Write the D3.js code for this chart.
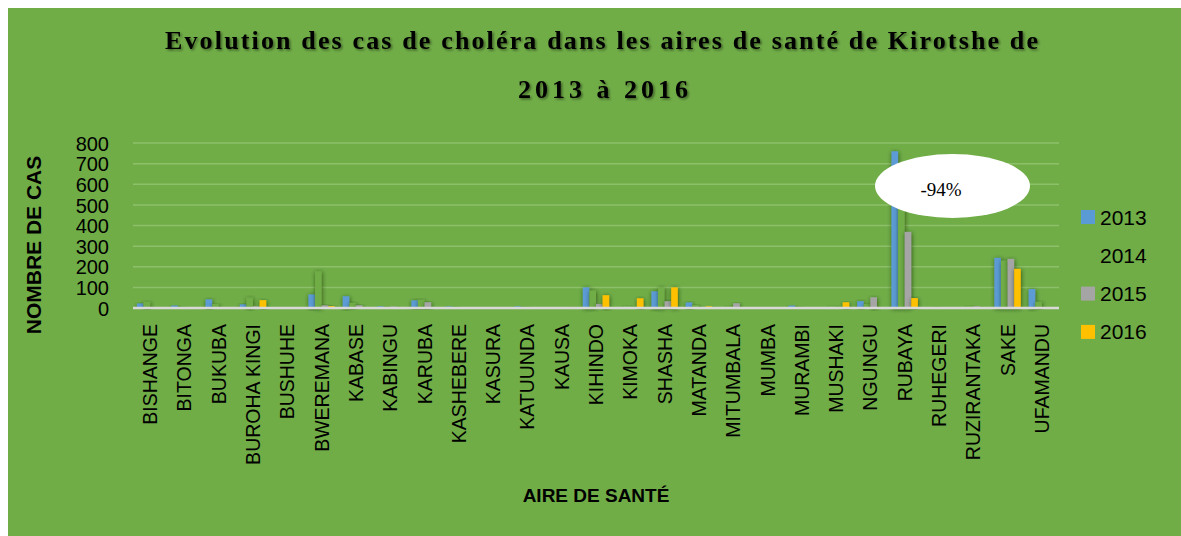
<!DOCTYPE html>
<html>
<head>
<meta charset="utf-8">
<script src="https://cdn.jsdelivr.net/npm/d3@7"></script>
<style>
  body { margin: 0; background: #ffffff; }
  svg { display: block; }
</style>
</head>
<body>
<svg id="chart" width="1181" height="536"></svg>
<script>
// aires de santé (x categories)
let aires = ["BISHANGE", "BITONGA", "BUKUBA", "BUROHA KINGI", "BUSHUHE", "BWEREMANA", "KABASE",
  "KABINGU", "KARUBA", "KASHEBERE", "KASURA", "KATUUNDA", "KAUSA", "KIHINDO", "KIMOKA", "SHASHA",
  "MATANDA", "MITUMBALA", "MUMBA", "MURAMBI", "MUSHAKI", "NGUNGU", "RUBAYA", "RUHEGERI",
  "RUZIRANTAKA", "SAKE", "UFAMANDU"];
let years = ["2013", "2014", "2015", "2016"];

// cases per year
let cas2013 = [22, 12, 42, 18, 3, 66, 57, 8, 37, 7, 0, 8, 3, 100, 0, 81, 27, 0, 0, 12, 0, 33, 760, 2, 0, 243, 92];
let cas2014 = [30, 5, 20, 50, 0, 178, 25, 5, 40, 5, 0, 5, 0, 85, 10, 100, 15, 10, 0, 5, 10, 20, 520, 5, 10, 230, 30];
let cas2015 = [4, 0, 3, 8, 0, 13, 13, 7, 28, 3, 0, 0, 2, 20, 2, 33, 3, 23, 3, 3, 0, 52, 369, 2, 8, 238, 2];
let cas2016 = [0, 3, 0, 38, 0, 9, 3, 3, 3, 0, 0, 0, 5, 62, 47, 100, 8, 2, 3, 0, 28, 3, 48, 2, 0, 190, 0];
let yTicks = [0, 100, 200, 300, 400, 500, 600, 700, 800];

let series = {"2013": cas2013, "2014": cas2014, "2015": cas2015, "2016": cas2016};
let colorYears = {
  "2013": "#5B9BD5",
  "2014": "#70AD47",
  "2015": "#A5A5A5",
  "2016": "#FFC000"
};
let bg = "#70AD47";

let svg = d3.select("#chart");

// white strip on the left and top, green chart area
svg.append("rect")
  .attr("x", 8).attr("y", 8)
  .attr("width", 1181 - 8).attr("height", 536 - 8)
  .attr("fill", bg);

let defs = svg.append("defs");
let shadow = defs.append("filter").attr("id", "barShadow")
  .attr("x", "-100%").attr("y", "-20%").attr("width", "300%").attr("height", "140%");
shadow.append("feDropShadow")
  .attr("dx", 0.5).attr("dy", 1)
  .attr("stdDeviation", 2)
  .attr("flood-color", "#1a3309")
  .attr("flood-opacity", 0.75);
let tshadow = defs.append("filter").attr("id", "titleShadow");
tshadow.append("feDropShadow")
  .attr("dx", 1.5).attr("dy", 1.5)
  .attr("stdDeviation", 1)
  .attr("flood-color", "#000")
  .attr("flood-opacity", 0.45);

let plotLeft = 133, plotRight = 1059, plotTop = 143, plotBottom = 308;

let x = d3.scaleBand()
  .domain(aires)
  .range([plotLeft, plotRight]);
let xYear = d3.scaleBand()
  .domain(years)
  .range([0, x.bandwidth()])
  .paddingOuter(0.6);
let y = d3.scaleLinear()
  .domain([0, 800])
  .range([plotBottom, plotTop]);

// gridlines
svg.append("g")
  .attr("class", "gridlines")
  .selectAll("line")
  .data(yTicks.slice(1))
  .enter().append("line")
  .attr("x1", plotLeft).attr("x2", plotRight)
  .attr("y1", d => y(d)).attr("y2", d => y(d))
  .attr("stroke", "#8DC06A")
  .attr("stroke-width", 1.5);

// y-axis labels
let yAxis = d3.axisLeft(y)
  .tickValues(yTicks)
  .tickSize(0)
  .tickPadding(0);
let yg = svg.append("g")
  .attr("class", "y-axis")
  .attr("transform", "translate(109,0)")
  .call(yAxis);
yg.select(".domain").remove();
yg.selectAll("text")
  .attr("fill", "#000")
  .style("font-family", "'Liberation Sans', Arial, sans-serif")
  .style("font-size", "20px")
  .attr("dy", "0.36em");

// bars
let groups = svg.append("g").attr("class", "bars")
  .selectAll("g")
  .data(years)
  .enter().append("g")
  .attr("fill", d => colorYears[d]);

groups.selectAll("rect")
  .data(yr => series[yr].map((v, i) => ({aire: aires[i], year: yr, value: v})))
  .enter().append("rect")
  .filter(d => d.value > 0)
  .attr("x", d => x(d.aire) + xYear(d.year))
  .attr("width", xYear.bandwidth())
  .attr("y", d => y(d.value))
  .attr("height", d => plotBottom - y(d.value))
  .attr("filter", "url(#barShadow)");

// x-axis line
svg.append("line")
  .attr("x1", plotLeft).attr("x2", plotRight)
  .attr("y1", plotBottom).attr("y2", plotBottom)
  .attr("stroke", "#D9D9D9")
  .attr("stroke-width", 2.5);

// x-axis labels
let xAxis = d3.axisBottom(x)
  .tickSize(0)
  .tickPadding(0);
let xg = svg.append("g")
  .attr("class", "x-axis")
  .attr("transform", "translate(0," + (plotBottom + 16) + ")")
  .call(xAxis);
xg.select(".domain").remove();
xg.selectAll("text")
  .attr("fill", "#000")
  .style("font-family", "'Liberation Sans', Arial, sans-serif")
  .style("font-size", "19.5px")
  .style("text-anchor", "end")
  .attr("transform", "rotate(-90)")
  .attr("x", 0)
  .attr("y", 0)
  .attr("dy", "0.36em");

// callout
svg.append("ellipse")
  .attr("cx", 952.5).attr("cy", 186)
  .attr("rx", 77.5).attr("ry", 32)
  .attr("fill", "#ffffff");
svg.append("text")
  .attr("x", 941).attr("y", 196)
  .style("font-family", "'Liberation Serif', 'Times New Roman', serif")
  .style("font-size", "19px")
  .style("text-anchor", "middle")
  .text("-94%");

// titles
svg.append("text")
  .attr("class", "chart_title")
  .attr("x", 165).attr("y", 49)
  .attr("textLength", 873)
  .attr("lengthAdjust", "spacing")
  .style("font-family", "'Liberation Serif', 'Times New Roman', serif")
  .style("font-size", "26px")
  .style("font-weight", "bold")
  .attr("filter", "url(#titleShadow)")
  .text("Evolution des cas de choléra dans les aires de santé de Kirotshe de");
svg.append("text")
  .attr("class", "chart_title")
  .attr("x", 518).attr("y", 98)
  .attr("textLength", 170)
  .attr("lengthAdjust", "spacing")
  .style("font-family", "'Liberation Serif', 'Times New Roman', serif")
  .style("font-size", "26px")
  .style("font-weight", "bold")
  .attr("filter", "url(#titleShadow)")
  .text("2013 à 2016");

svg.append("text")
  .attr("transform", "translate(41,245) rotate(-90)")
  .style("font-family", "'Liberation Sans', Arial, sans-serif")
  .style("font-size", "21px")
  .style("font-weight", "bold")
  .style("text-anchor", "middle")
  .text("NOMBRE DE CAS");
svg.append("text")
  .attr("x", 596).attr("y", 502)
  .style("font-family", "'Liberation Sans', Arial, sans-serif")
  .style("font-size", "19px")
  .style("font-weight", "bold")
  .style("text-anchor", "middle")
  .text("AIRE DE SANTÉ");

// legend
let legend = svg.selectAll(".legend")
  .data(years)
  .enter().append("g")
  .attr("class", "legend")
  .attr("transform", (d, i) => "translate(1081," + (210 + i * 38.3) + ")");
legend.append("rect")
  .attr("width", 14).attr("height", 14)
  .attr("fill", d => colorYears[d]);
legend.append("text")
  .attr("x", 19).attr("y", 7)
  .attr("dy", "0.36em")
  .style("font-family", "'Liberation Sans', Arial, sans-serif")
  .style("font-size", "21px")
  .text(d => d);
</script>
</body>
</html>
